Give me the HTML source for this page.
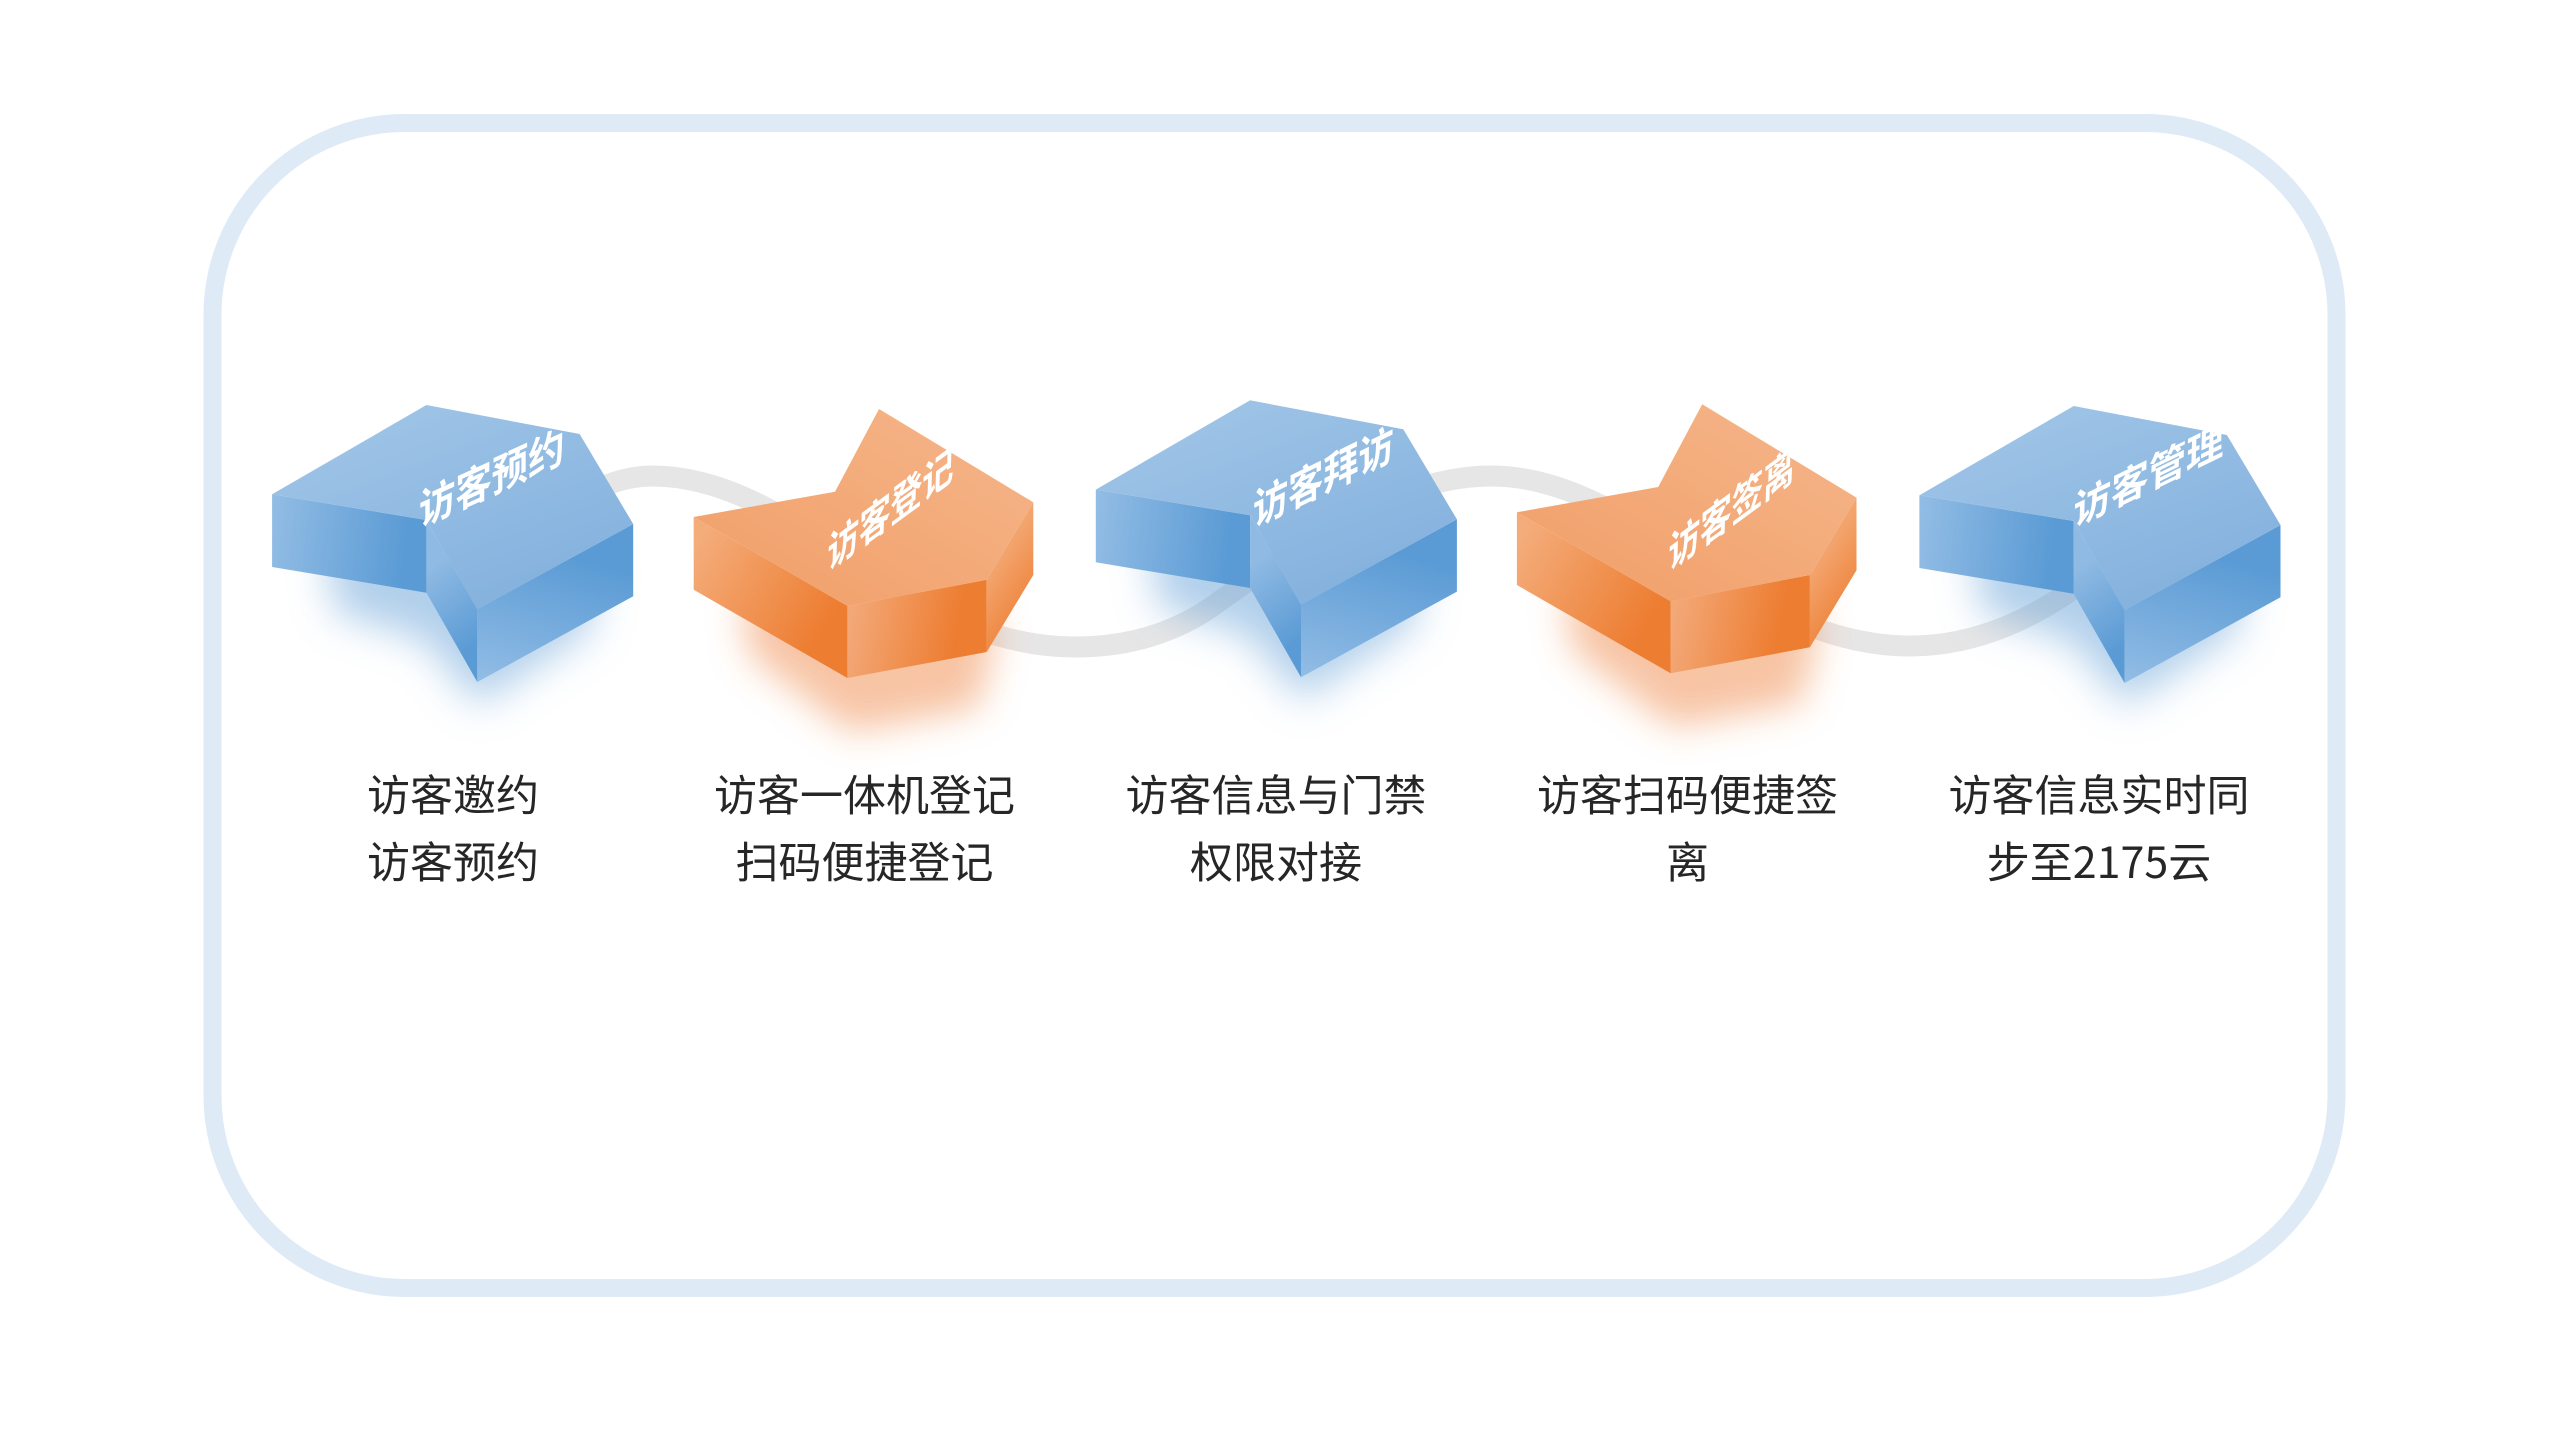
<!DOCTYPE html>
<html lang="zh-CN">
<head>
<meta charset="utf-8">
<title>访客流程</title>
<style>
html,body{margin:0;padding:0;background:#fff;width:2560px;height:1440px;overflow:hidden}
svg{display:block}
.lb{font-family:"Noto Sans CJK SC","Liberation Sans",sans-serif;font-size:43px;fill:#262626;text-anchor:middle}
.tg{font-family:"Noto Sans CJK SC","Liberation Sans",sans-serif;font-size:40px;font-weight:700;fill:#fff}
</style>
</head>
<body>
<svg width="2560" height="1440" viewBox="0 0 2560 1440" xmlns="http://www.w3.org/2000/svg">
<defs>
<filter id="b1" x="-50%" y="-50%" width="200%" height="200%"><feGaussianBlur stdDeviation="20"/></filter>
<filter id="b2" x="-50%" y="-50%" width="200%" height="200%"><feGaussianBlur stdDeviation="18"/></filter>
<linearGradient id="bt" gradientUnits="userSpaceOnUse" x1="426" y1="405" x2="500" y2="600"><stop offset="0" stop-color="#9dc3e6"/><stop offset="1" stop-color="#85b2de"/></linearGradient>
<linearGradient id="bl" gradientUnits="userSpaceOnUse" x1="272" y1="525" x2="405" y2="540"><stop offset="0" stop-color="#91bce4"/><stop offset="1" stop-color="#5b9bd5"/></linearGradient>
<linearGradient id="bi" gradientUnits="userSpaceOnUse" x1="428" y1="570" x2="480" y2="640"><stop offset="0" stop-color="#8fbae3"/><stop offset="1" stop-color="#5b9bd5"/></linearGradient>
<linearGradient id="br" gradientUnits="userSpaceOnUse" x1="560" y1="555" x2="520" y2="695"><stop offset="0" stop-color="#5b9bd5"/><stop offset="1" stop-color="#93bde5"/></linearGradient>
<linearGradient id="ot" gradientUnits="userSpaceOnUse" x1="900" y1="420" x2="800" y2="600"><stop offset="0" stop-color="#f4b183"/><stop offset="1" stop-color="#f2a26d"/></linearGradient>
<linearGradient id="ol" gradientUnits="userSpaceOnUse" x1="700" y1="540" x2="830" y2="620"><stop offset="0" stop-color="#f4ac7a"/><stop offset="1" stop-color="#ed7d31"/></linearGradient>
<linearGradient id="of" gradientUnits="userSpaceOnUse" x1="850" y1="620" x2="955" y2="640"><stop offset="0" stop-color="#f3a878"/><stop offset="1" stop-color="#ed7d31"/></linearGradient>
<linearGradient id="or" gradientUnits="userSpaceOnUse" x1="980" y1="570" x2="1040" y2="610"><stop offset="0" stop-color="#f4ab78"/><stop offset="1" stop-color="#ed7d31"/></linearGradient>

<g id="blue">
  <polygon points="272.1,494.3 426.4,520 426.4,592.7 272.1,567" fill="url(#bl)"/>
  <polygon points="426.4,520 477.3,609.3 477.3,682 426.4,592.7" fill="url(#bi)"/>
  <polygon points="477.3,609.3 633.2,524 633.2,596.3 477.3,682" fill="url(#br)"/>
  <polygon points="426.4,405 579.6,434 633.2,524 477.3,609.3 426.4,520 272.1,494.3" fill="url(#bt)"/>
</g>
<g id="orange">
  <polygon points="693.7,517 847.4,606 847.4,678 693.7,589.7" fill="url(#ol)"/>
  <polygon points="847.4,606 986.7,579.7 986.7,652 847.4,678" fill="url(#of)"/>
  <polygon points="986.7,579.7 1033.3,502.3 1033.3,575 986.7,652" fill="url(#or)"/>
  <polygon points="693.7,517 835,491.7 879,409 1033.3,502.3 986.7,579.7 847.4,606" fill="url(#ot)"/>
</g>
<polygon id="bs" points="325,540 335,612 425,640 478,705 590,630 600,560" fill="#5b9bd5" fill-opacity=".48" filter="url(#b1)"/>
<polygon id="os" points="740,600 750,655 850,732 978,708 995,640 985,600" fill="#ed7d31" fill-opacity=".45" filter="url(#b2)"/>
</defs>

<rect width="2560" height="1440" fill="#fff"/>
<rect x="212.5" y="123" width="2124" height="1165" rx="192" ry="192" fill="none" stroke="#deeaf6" stroke-width="18"/>

<path d="M560,510 C590,490 620,476 652,476 C800,476 900,647 1075,647 C1125,647 1170,635 1210,608 C1265,570 1380,476 1491,476 C1640,476 1740,646 1910,646 C1960,646 2010,630 2060,598 L2090,578" fill="none" stroke="#e7e6e6" stroke-width="21"/>

<use href="#bs"/>
<use href="#os"/>
<use href="#bs" transform="translate(823.7,-4.7)"/>
<use href="#os" transform="translate(823.2,-4.7)"/>
<use href="#bs" transform="translate(1647.3,1)"/>

<use href="#blue"/>
<use href="#orange"/>
<use href="#blue" transform="translate(823.7,-4.7)"/>
<use href="#orange" transform="translate(823.2,-4.7)"/>
<use href="#blue" transform="translate(1647.3,1)"/>

<text class="tg" transform="matrix(.91,-.416,0,1.08,419,527)">访客预约</text>
<text class="tg" transform="matrix(.79,-.58,-.03,1.08,827,571)">访客登记</text>
<text class="tg" transform="matrix(.88,-.43,0,1.08,1253,527)">访客拜访</text>
<text class="tg" transform="matrix(.79,-.58,-.03,1.08,1668,571)">访客签离</text>
<text class="tg" transform="matrix(.94,-.46,-.03,1.02,2073,527)">访客管理</text>

<text class="lb" x="453" y="811">访客邀约</text>
<text class="lb" x="453" y="878">访客预约</text>
<text class="lb" x="864.500" y="811">访客一体机登记</text>
<text class="lb" x="864.500" y="878">扫码便捷登记</text>
<text class="lb" x="1276" y="811">访客信息与门禁</text>
<text class="lb" x="1276" y="878">权限对接</text>
<text class="lb" x="1687.500" y="811">访客扫码便捷签</text>
<text class="lb" x="1687.500" y="878">离</text>
<text class="lb" x="2099" y="811">访客信息实时同</text>
<text class="lb" x="2099" y="878">步至2175云</text>
</svg>
</body>
</html>
